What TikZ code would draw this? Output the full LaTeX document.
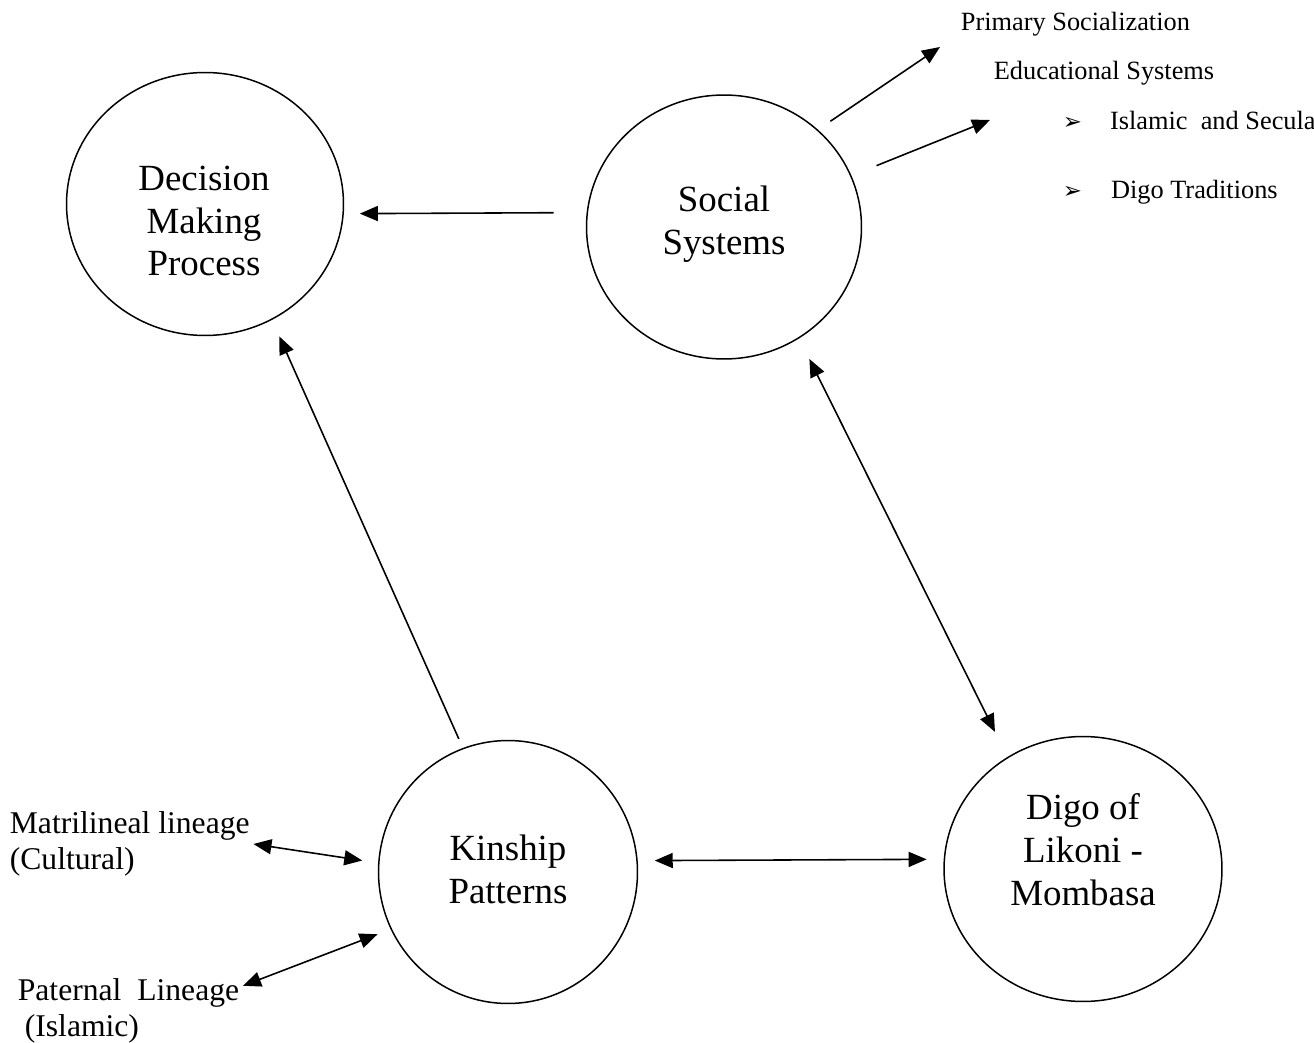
\documentclass[tikz,border=0pt]{standalone}
\usepackage{fontspec}
\setmainfont{Liberation Serif}
\newfontfamily\symfont{DejaVu Sans}
\usetikzlibrary{arrows.meta,shapes.geometric}
\tikzset{
	bubble/.style={ellipse, draw, line width=0.85pt, minimum width=5.54cm, minimum height=5.26cm, inner sep=0pt},
	bubtext/.style={align=center, font=\fontsize{21}{24.4}\selectfont, inner sep=0pt}
}
\tikzset{
	lbl/.style={anchor=west, align=left, font=\fontsize{18}{20.5}\selectfont, inner sep=2pt},
	sidetext/.style={anchor=west, font=\fontsize{15}{18}\selectfont, inner sep=2pt},
	arr/.style={-{Triangle[length=3.6mm, width=3mm]}, line width=0.9pt},
	dblarr/.style={{Triangle[length=3.6mm, width=3mm]}-{Triangle[length=3.6mm, width=3mm]}, line width=0.9pt}
}
\newcommand{\bul}{{\symfont\fontsize{13}{16}\selectfont ➢}}

\begin{document}
\begin{tikzpicture}[x=0.02cm, y=-0.02cm]
	\useasboundingbox (0,0) rectangle (1314,1043);
	\node[bubble] at (205,204) (dec) {};
	\node[bubble, minimum width=5.5cm, minimum height=5.28cm] at (724,227) (soc) {};
	\node[bubble, minimum width=5.18cm, minimum height=5.26cm] at (508,872) (kin) {};
	\node[bubble, minimum width=5.56cm, minimum height=5.3cm] at (1083,869) (digo) {};
	
	\node[bubtext] at (204,221) (dect) {Decision\\Making\\Process};
	\node[bubtext] at (724,224) (soct) {Social\\Systems};
	\node[bubtext] at (508,869) (kint) {Kinship\\Patterns};
	\node[bubtext] at (1083,850) (digot) {Digo of\\Likoni -\\Mombasa};
	
	\node[sidetext] at (957,24) (prim) {Primary Socialization};
	\node[sidetext] at (990,73) (edu) {Educational Systems};
	\node[sidetext] at (1059,120) (isl) {\bul\hspace{0.56cm}Islamic\ \ and Secula};
	\node[sidetext] at (1059,192) (trad) {\bul\hspace{0.58cm}Digo Traditions};
	\node[lbl] at (6,844) (mat) {Matrilineal lineage\\(Cultural)};
	\node[lbl] at (14,1011) (pat) {Paternal\ \ Lineage\\\hspace*{0.14cm}(Islamic)};
	
	\coordinate (primtip) at (940,47);
	\coordinate (edutip) at (990,120);
	
	\draw[arr, shorten <=0.66cm, shorten >=0.32cm] (soc.174) -- (dec.-4);
	\draw[arr, shorten <=0.2cm, shorten >=0.36cm] (kin.110) -- (dec.-60);
	\draw[dblarr, shorten <=0.46cm, shorten >=0.56cm] (soc.-56) -- (digo.124);
	\draw[dblarr, shorten <=0.34cm, shorten >=0.34cm] (kin.5) -- (digo.176);
	\draw[dblarr, shorten >=0.32cm] (mat.east) -- (kin.176);
	\draw[dblarr, shorten >=0.28cm] ([yshift=-0.22cm]pat.north east) -- (kin.206);
	\draw[arr, shorten <=0.3cm] (soc.46) -- (primtip);
	\draw[arr, shorten <=0.54cm] (soc) -- (edutip);
\end{tikzpicture}
\end{document}
